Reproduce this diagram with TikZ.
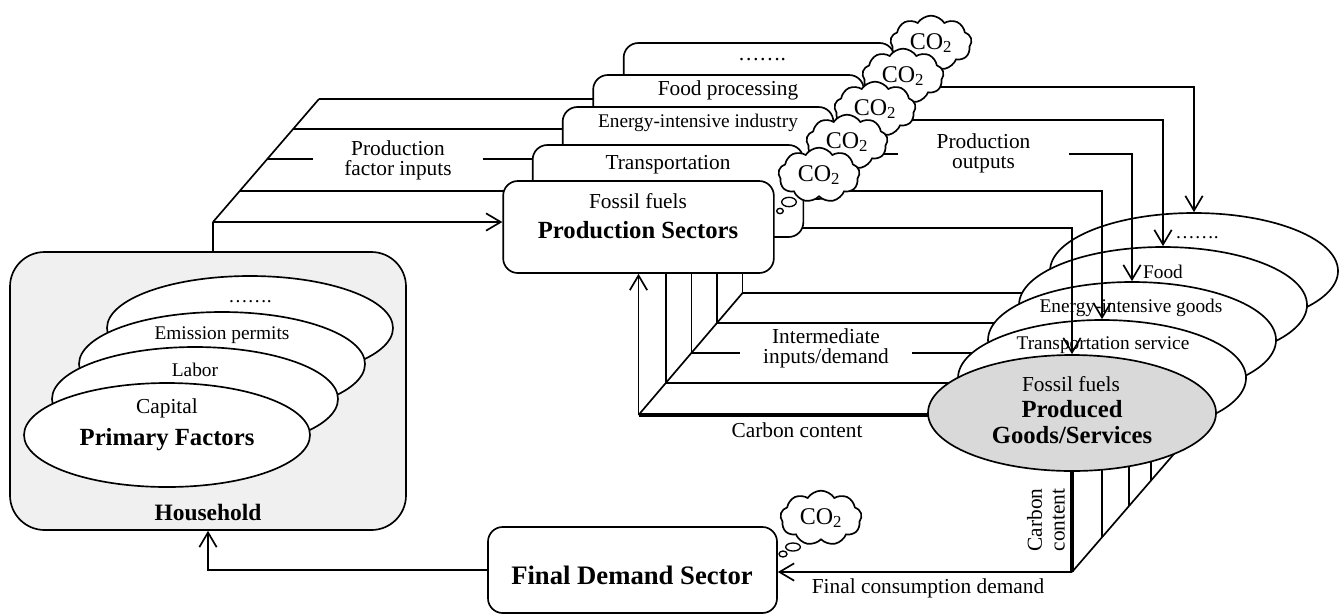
\documentclass[tikz,border=0pt]{standalone}
\usepackage{fontspec}
\setmainfont{Liberation Serif}
\usepackage{tikz}
\usetikzlibrary{
	positioning,      % posizionamento relativo
	arrows.meta,      % punte di freccia aperte
	calc,             % coordinate calcolate
	shapes.geometric, % ellissi
	shapes.symbols    % nuvole di CO2
}
\pgfdeclarelayer{sfondo}
\pgfsetlayers{sfondo,main}

\newcommand{\fgrande}{\fontsize{18.5}{20}\selectfont\bfseries}
\newcommand{\fnormale}{\fontsize{16}{15}\selectfont}
\newcommand{\fpiccolo}{\fontsize{14.5}{16}\selectfont}
\newcommand{\fnuvola}{\fontsize{18}{18}\selectfont}

\begin{document}
\begin{tikzpicture}[
			x=0.75pt, y=-0.75pt,
			tratto/.style={line width=1.25pt},
			freccia/.style={line width=1.25pt, -{Straight Barb[length=11pt, width=13pt]}},
			carbonio/.style={line width=2.4pt},
			% Stile per i settori produttivi
			settore/.style={draw, line width=1.25pt, rounded corners=11pt, fill=white,
				minimum width=203pt, minimum height=69pt},
			bene/.style={draw, ellipse, line width=1.25pt, fill=white,
				minimum width=216pt, minimum height=87pt},
			fattore/.style={draw, ellipse, line width=1.25pt, fill=white,
				minimum width=214.5pt, minimum height=78pt},
			nuvola/.style={draw, cloud, cloud puffs=9, cloud puff arc=115, aspect=1.5, line width=1.25pt,
				fill=white, minimum width=61pt, minimum height=41pt, inner sep=0pt, font=\fnuvola},
			bolla/.style={draw, ellipse, line width=1pt, fill=white, inner sep=0pt},
			vuoto/.style={fill=white, align=center, inner xsep=0pt, inner ysep=0pt, font=\fnormale},
			testo/.style={inner sep=0pt, font=\fnormale},
			piccolo/.style={inner sep=0pt, font=\fpiccolo},
			grassetto/.style={inner sep=0pt, align=center, font=\fgrande}
			]
			
			\useasboundingbox (0,0) rectangle (1344,615);
			
			% --- Beni prodotti (dal fondo al davanti) ---
			\node[bene] (gD) at (1194,271) {};
			\node[piccolo] at (1197,238) {…….};
			\node[bene] (gF) at (1163,305) {};
			\node[piccolo] at (1163,272) {Food};
			\node[bene] (gE) at (1132,340) {};
			\node[piccolo] at (1131,308) {Energy-intensive goods};
			\node[bene] (gT) at (1102,378) {};
			\node[piccolo] at (1103,345) {Transportation service};
			\node[bene, fill=black!15] (gP) at (1072,413) {};
			\node[testo] at (1071,384) {Fossil fuels};
			\node[grassetto] at (1072,422) {Produced\\Goods/Services};
			
			% --- Uscite della produzione ---
			\foreach \xs/\ys/\e in {790/228/gP, 820/191/gT, 848/154/gE, 869/120/gF, 900/87/gD}
			\draw[freccia] (\xs,\ys) -| (\e.north);
			
			% --- Settori produttivi ---
			\node[settore] (secD) at (759,89) {};
			\node[testo] at (762,60) {…….};
			\node[settore] (secF) at (728.5,121) {};
			\node[testo] at (728,90) {Food processing};
			\node[settore] (secE) at (698,153) {};
			\node[piccolo] at (698,123) {Energy-intensive industry};
			\node[settore] (secT) at (668,191) {};
			\node[testo] at (668,165) {Transportation};
			\node[settore] (psec) at (638.5,227) {};
			\node[testo] at (638,201) {Fossil fuels};
			\node[grassetto] at (638,230) {Production Sectors};
			
			% --- Nuvole di CO2 ---
			\foreach \i/\cx/\cy in {5/931/43, 4/903/76, 3/875/109, 2/847/142, 1/819/175}
			\node[nuvola] (co\i) at (\cx,\cy) {CO\textsubscript{2}};
			\node[bolla, minimum width=11pt, minimum height=7pt] (b1) at (789,202) {};
			\node[bolla, minimum width=5pt, minimum height=4pt] (b2) at (780,211) {};
			
			% --- Famiglie e fattori primari ---
			\node[draw, line width=1.25pt, rounded corners=26pt, fill=black!6,
			minimum width=297pt, minimum height=208.5pt] (hh) at (208,391) {};
			\node[fattore] (fD) at (250,328) {};
			\node[piccolo] at (250,302) {…….};
			\node[fattore] (fE) at (222,364) {};
			\node[piccolo] at (222,335) {Emission permits};
			\node[fattore] (fL) at (195,399) {};
			\node[piccolo] at (195,370) {Labor};
			\node[fattore] (fC) at (167,435) {};
			\node[testo] at (167,408) {Capital};
			\node[grassetto] at (167,440) {Primary Factors};
			\node[grassetto, font=\fontsize{17.6}{18}\selectfont\bfseries] at (208,512) {Household};
			
			% --- Domanda finale ---
			\node[settore, minimum width=216.75pt, minimum height=64.5pt] (fd) at (632.5,570) {};
			\node[grassetto, font=\fontsize{20}{21}\selectfont\bfseries] at (632,575) {Final Demand Sector};
			\node[nuvola] (co6) at (821,518) {CO\textsubscript{2}};
			\node[bolla, minimum width=11pt, minimum height=6pt] (b3) at (793,547) {};
			\node[bolla, minimum width=6pt, minimum height=4.5pt] (b4) at (783,554) {};
			
			% --- Frecce principali ---
			\coordinate (split) at (213,222);
			\coordinate (ci) at (638.5,415);
			\coordinate (cb) at (1072,572);
			\draw[tratto] (split |- hh.north) -- (split);
			\draw[freccia] (split) -- (split -| psec.west);
			\draw[freccia] (ci) -- (psec.south);
			\draw[freccia] (cb) -- (cb -| fd.east);
			\draw[freccia] (fd.west) -| (hh.south);
			
			% --- Etichette ---
			\node[vuoto, minimum width=127.5pt] at (398,160) {Production\\factor inputs};
			\node[vuoto, minimum width=128pt] at (983.5,153) {Production\\outputs};
			\node[vuoto, minimum width=129pt] at (826,348) {Intermediate\\inputs/demand};
			\node[testo] at (797,430) {Carbon content};
			\node[testo] at (928,588) {Final consumption demand};
			\node[testo, align=center, rotate=90, font=\fontsize{16}{17}\selectfont] at (1046,520) {Carbon\\content};
			
			% --- Linee sotto i nodi ---
			\begin{pgfonlayer}{sfondo}
				% ingressi dei fattori
				\coordinate (ftop) at (319,99);
				\draw[tratto] (split) -- (ftop);
				\foreach \y/\b in {191/secT, 159/secE, 129/secF, 99/secD}{
					\coordinate (p) at ({213+(222-\y)*0.8618},\y);
					\draw[tratto] (p) -- (p -| \b);
				}
				% domanda intermedia
				\foreach \y/\b/\e in {383/secT/gP, 353/secE/gT, 323/secF/gE, 293/secD/gF}{
					\coordinate (q) at ({638.5+(415-\y)*0.8525},\y);
					\draw[tratto] (q |- \b.south) -- (q) -- (q -| \e);
				}
				\coordinate (itop) at (742.5,293);
				\draw[tratto] (ci) -- (itop);
				\draw[carbonio] (ci) -- (ci -| gP);
				% contenuto di carbonio verso la domanda finale
				\draw[carbonio] (gP) -- (cb);
				\foreach \x in {1102,1129,1151}{
					\coordinate (r) at (\x,{572-(\x-1072)*1.155});
					\draw[tratto] (r) -- (r |- gP);
				}
				\coordinate (rtop) at (1186,440);
				\draw[tratto] (cb) -- (rtop);
			\end{pgfonlayer}
			
		\end{tikzpicture}
\end{document}
